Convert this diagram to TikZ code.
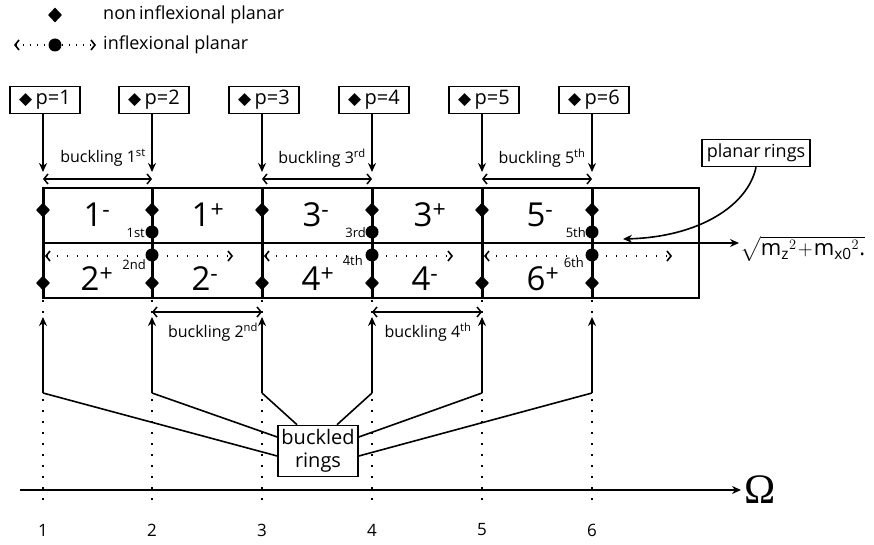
\documentclass[tikz,border=0pt]{standalone}
\usepackage{fontspec}
\usepackage{amsmath}
\setmainfont{Open Sans}
\newfontfamily\symfont{DejaVu Sans}
\newfontfamily\omfont{Liberation Serif}
\usetikzlibrary{arrows.meta,shapes.geometric}
\begin{document}
\begin{tikzpicture}[x=1pt,y=-1pt,
  conn/.style={line width=1.6pt},
  tipf/.style={-{Stealth[length=9pt,width=8pt]}},
  barb/.style={line width=1.5pt,{Straight Barb[length=4pt,width=10pt]}-{Straight Barb[length=4pt,width=10pt]}},
  dotarr/.style={line width=1.6pt,dash pattern=on 1.6pt off 8.4pt,{Straight Barb[length=4pt,width=10pt]}-{Straight Barb[length=4pt,width=10pt]}},
  dotv/.style={line width=1.8pt,dash pattern=on 1.8pt off 9.2pt},
  gridv/.style={line width=3pt},
  diam/.style={diamond,fill=black,inner sep=0pt,minimum width=14pt,minimum height=15pt},
  bigdot/.style={circle,fill=black,inner sep=0pt,minimum size=13pt},
  pbox/.style={draw,line width=1.6pt,minimum width=70pt,minimum height=27pt,inner sep=1pt,font=\fontsize{20}{21}\selectfont},
  lbl/.style={inner sep=0pt,font=\fontsize{16}{18}\selectfont},
  big/.style={inner sep=0pt,font=\fontsize{33}{35}\selectfont},
  ordl/.style={inner sep=0pt,anchor=east,font=\fontsize{13}{14}\selectfont},
]
\useasboundingbox (0,0) rectangle (874,545);

% legend
\node[diam] (ldia) at (55,15) {};
\node[anchor=west,inner sep=0pt,font=\fontsize{18}{20}\selectfont] (leg1) at (103,15) {non\,inflexional planar};
\node[bigdot] (ldot) at (55,45) {};
\coordinate (ll) at (14,45);
\coordinate (lr) at (96,45);
\draw[line width=1.6pt,dash pattern=on 1.6pt off 5.4pt,{Straight Barb[length=4pt,width=10pt]}-] (ll) -- (ldot);
\draw[line width=1.6pt,dash pattern=on 1.6pt off 5.4pt,-{Straight Barb[length=4pt,width=10pt]}] (ldot) -- (lr);
\node[anchor=west,inner sep=0pt,font=\fontsize{18}{20}\selectfont] (leg2) at (103,45) {inflexional planar};

% grid
\draw[line width=2.5pt] (43,188) rectangle (699,298);

\foreach \i/\x in {1/43,2/152,3/262,4/372,5/482,6/592}{
  \draw[dotv] (\x,300) -- (\x,507);
  \node[font=\fontsize{17}{18}\selectfont,inner sep=0pt] (n\i) at (\x,530) {\i};
  \node[pbox] (p\i) at (\x+2,100) {{\symfont\fontsize{17}{18}\selectfont ◆}\,p=\i};
  \coordinate (pt\i) at (\x,172);
  \draw[conn,tipf] (p\i.south -| pt\i) -- (pt\i);
  \coordinate (b\i) at (\x,393);
  \coordinate (u\i) at (\x,317);
  \draw[conn,tipf] (b\i) -- (u\i);
}

% middle line
\coordinate (mstart) at (43,243);
\node[anchor=west,inner sep=1pt,font=\fontsize{22}{24}\selectfont] (sq) at (739,249)
  {$\sqrt{\text{m}_{\text{z}}{}^{2}\!+\!\text{m}_{\text{x0}}{}^{2}\text{.}}$};
\draw[line width=1.4pt,tipf] (mstart) -- (sq.west |- mstart);

\foreach \x in {43,152,262,372,482,592}{
  \draw[gridv] (\x,188) -- (\x,298);
  \node[diam] at (\x,210) {};
  \node[diam] at (\x,283) {};
}
\foreach \x in {152,372,592}{
  \node[bigdot] at (\x,232) {};
  \node[bigdot] at (\x,255) {};
}

% ordinal labels
\node[ordl] (o1) at (145,233) {1st};
\node[ordl] (o2) at (146,265) {2nd};
\node[ordl] (o3) at (366,233) {3rd};
\node[ordl] (o4) at (363,261) {4th};
\node[ordl] (o5) at (586,233) {5th};
\node[ordl] (o6) at (584,263) {6th};

% dotted arrows
\draw[dotarr] (45,256) -- (233,256);
\draw[dotarr] (264,256) -- (453,256);
\draw[dotarr] (484,256) -- (672,256);

% big labels
\node[big] (l1m) at (97,215) {1\textsuperscript{-}};
\node[big] (l1p) at (208,215) {1\textsuperscript{+}};
\node[big] (l2p) at (97,279) {2\textsuperscript{+}};
\node[big] (l2m) at (205,279) {2\textsuperscript{-}};
\node[big] (l3m) at (316,215) {3\textsuperscript{-}};
\node[big] (l3p) at (430,215) {3\textsuperscript{+}};
\node[big] (l4p) at (318,279) {4\textsuperscript{+}};
\node[big] (l4m) at (425,279) {4\textsuperscript{-}};
\node[big] (l5m) at (540,215) {5\textsuperscript{-}};
\node[big] (l6p) at (543,279) {6\textsuperscript{+}};

% buckling arrows
\draw[barb] (43,179) -- (152,179);
\draw[barb] (262,179) -- (372,179);
\draw[barb] (482,179) -- (592,179);
\draw[barb] (152,312) -- (262,312);
\draw[barb] (372,312) -- (482,312);
\node[lbl] (bk1) at (103,158) {buckling 1\textsuperscript{st}};
\node[lbl] (bk3) at (322,158) {buckling 3\textsuperscript{rd}};
\node[lbl] (bk5) at (542,158) {buckling 5\textsuperscript{th}};
\node[lbl] (bk2) at (213,332) {buckling 2\textsuperscript{nd}};
\node[lbl] (bk4) at (428,332) {buckling 4\textsuperscript{th}};

% planar rings
\node[draw,line width=1.6pt,inner sep=2pt,minimum width=108pt,minimum height=27pt,font=\fontsize{18}{20}\selectfont] (pr) at (756,153) {planar\,rings};
\coordinate (prend) at (623,239);
\draw[conn,tipf] (pr.south) .. controls (748,205) and (700,237) .. (prend);

% buckled rings
\node[draw,line width=1.6pt,align=center,inner sep=2pt,minimum width=80pt,minimum height=51pt,font=\fontsize{20}{23}\selectfont] (br) at (318,451) {buckled\\rings};
\draw[conn] (b1) -- ([yshift=-5pt]br.west);
\draw[conn] (b2) -- ([yshift=14pt]br.west);
\draw[conn] (b3) -- ([xshift=-21pt]br.north);
\draw[conn] (b4) -- ([xshift=19pt]br.north);
\draw[conn] (b5) -- ([yshift=14pt]br.east);
\draw[conn] (b6) -- ([yshift=-5pt]br.east);

% Omega axis
\coordinate (axs) at (20,490);
\node[anchor=west,inner sep=3pt,font=\fontsize{42}{44}\selectfont\omfont] (om) at (741,490) {Ω};
\draw[line width=1.5pt,tipf] (axs) -- (om.west |- axs);
\end{tikzpicture}
\end{document}
